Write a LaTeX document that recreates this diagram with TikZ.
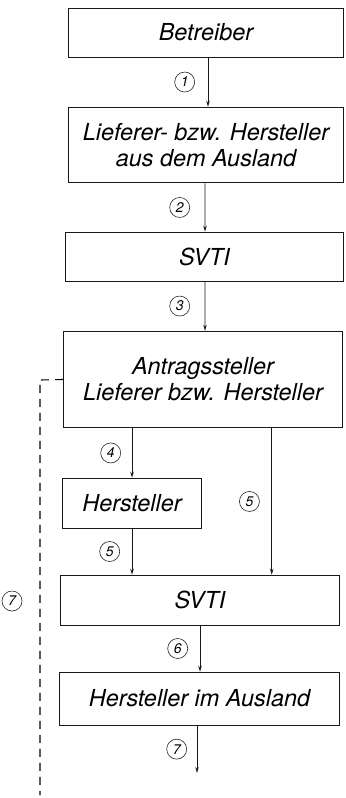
\documentclass[tikz,border=0pt]{standalone}
\usepackage{fontspec}
\setmainfont{TeX Gyre Heros}
\usetikzlibrary{positioning,arrows.meta}
\tikzset{
    stage/.style={draw=black!90, fill=white, line width=0.8bp, inner sep=2pt,
                  font=\itshape\fontsize{23.5}{26}\selectfont, align=center},
    flow/.style={-{Stealth[length=6bp,width=3.5bp]}, line width=0.8bp, draw=black!90},
    backflow/.style={line width=1.1bp, draw=black, dash pattern=on 8bp off 6bp},
    numcirc/.style={circle, draw=black!85, line width=0.6bp, inner sep=0pt,
                    minimum size=20bp, font=\itshape\fontsize{14}{14}\selectfont},
}
\begin{document}
\begin{tikzpicture}[x=1bp,y=-1bp]
\useasboundingbox (0,0) rectangle (345,798);

% ---------------- boxes ----------------
\node[stage, minimum width=276, minimum height=49] (betr)  at (206,32.5)  {Betreiber};
\node[stage, minimum width=276, minimum height=76] (liefa) at (206,145)   {Lieferer- bzw. Hersteller\\aus dem Ausland};
\node[stage, minimum width=279, minimum height=49] (svtia) at (204.5,256.5) {SVTI};
\node[stage, minimum width=280, minimum height=97] (antr)  at (203,379.5) {Antragssteller\\Lieferer bzw. Hersteller};
\node[stage, minimum width=140, minimum height=50] (herst) at (132,503)   {Hersteller};
\node[stage, minimum width=280, minimum height=50] (svtib) at (200,600)   {SVTI};
\node[stage, minimum width=281, minimum height=53] (hausl) at (199.5,698.5) {Hersteller im Ausland};

\coordinate (endflow) at (197,773);
\coordinate (backcorner) at (40,380);
\coordinate (backend) at (40,795);

% ---------------- connectors ----------------
% 1-3: main chain
\draw[flow] ([xshift=2]betr.south) -- ([xshift=2]liefa.north)
  node[numcirc, midway, left=13] {1};
\draw[flow] ([xshift=-1]liefa.south) -- ([xshift=0.5]svtia.north)
  node[numcirc, midway, left=15] {2};
\draw[flow] ([xshift=0.5]svtia.south) -- ([xshift=2]antr.north)
  node[numcirc, midway, left=15] {3};
% 4/5: via Hersteller or direct
\draw[flow] (herst.north |- antr.south) -- (herst.north)
  node[numcirc, midway, left=11] {4};
\draw[flow] (herst.south) -- (herst.south |- svtib.north)
  node[numcirc, midway, left=12] {5};
\draw[flow] ([xshift=69]antr.south) -- ([xshift=69]antr.south |- svtib.north)
  node[numcirc, midway, left=12] {5};
% 6/7
\draw[flow] (svtib.south) -- (svtib.south |- hausl.north)
  node[numcirc, midway, left=12] {6};
\draw[flow] (hausl.south -| endflow) -- (endflow)
  node[numcirc, midway, left=10] {7};
% 7: dashed return line
\draw[backflow] (antr.west) -- (backcorner) -- (backend);
\node[numcirc] (num7b) at (12,601) {7};

\end{tikzpicture}
\end{document}
